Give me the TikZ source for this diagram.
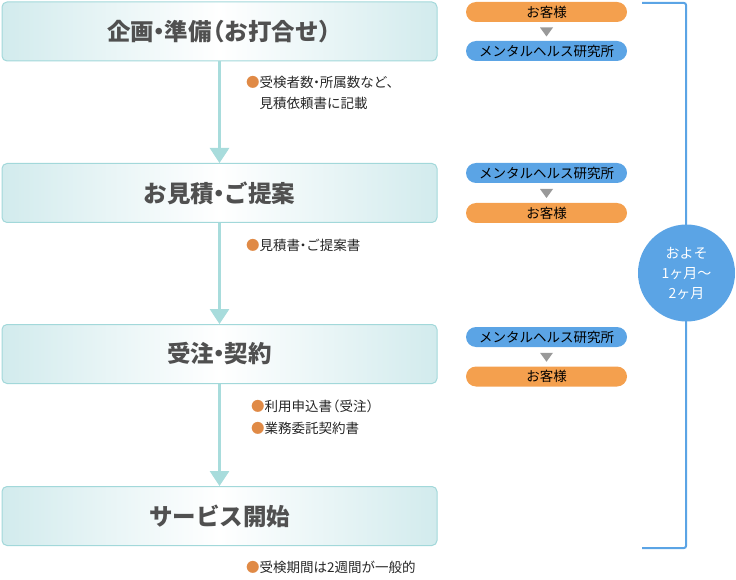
\documentclass[tikz,border=0pt]{standalone}
\usepackage{fontspec}
\newfontfamily\jp{Noto Sans CJK JP}
\usetikzlibrary{arrows.meta,positioning,calc}
\definecolor{stepline}{HTML}{A8DCDC}
\definecolor{stepedge}{HTML}{D2EBED}
\definecolor{stepborder}{HTML}{A2D8DA}
\definecolor{steptext}{HTML}{505050}
\definecolor{custorange}{HTML}{F4A04E}
\definecolor{labblue}{HTML}{5BA4E5}
\definecolor{dotorange}{HTML}{E08A46}
\definecolor{tipgray}{HTML}{999999}
\newcommand{\dotmark}{\textcolor{dotorange}{●}}
% narrow punctuation
\newcommand{\nd}{\makebox[0.45em]{・}}
\newcommand{\lp}{\makebox[0.55em][r]{（}}
\newcommand{\rp}{\makebox[0.55em][l]{）}}

\begin{document}
\begin{tikzpicture}[x=1pt, y=-1pt, font=\jp,
  stepbox/.style={draw=stepborder, line width=1pt, rounded corners=5pt, minimum width=435pt, minimum height=59pt, left color=stepedge, right color=stepedge, middle color=white, text=steptext, font=\jp\bfseries\fontsize{23.5}{26}\selectfont},
  flow/.style={draw=stepline, line width=3pt, -{Triangle[width=19pt,length=15pt]}},
  notetext/.style={anchor=west, inner sep=0pt, align=left, text=black!85, font=\jp\fontsize{13.5}{21.5}\selectfont},
  pill/.style={rounded corners=10pt, minimum width=161pt, minimum height=20pt, inner sep=0pt, text=black, font=\jp\fontsize{13.5}{15}\selectfont},
  cust/.style={pill, fill=custorange},
  lab/.style={pill, fill=labblue},
  tip/.style={fill=tipgray},
  span/.style={draw=labblue, line width=2pt}]
\useasboundingbox (0,0) rectangle (736,580);

% steps
\node[stepbox] (s_1) at (219.5,31.5) {企画\nd 準備\lp お打合せ\rp};
\node[stepbox] (s_2) at (219.5,193) {お見積\nd ご提案};
\node[stepbox] (s_3) at (219.5,354) {受注\nd 契約};
\node[stepbox] (s_4) at (219.5,516) {サービス開始};

\draw[flow] (s_1) -- (s_2);
\draw[flow] (s_2) -- (s_3);
\draw[flow] (s_3) -- (s_4);

% notes
\node[notetext] (note_1) at (246,93) {\dotmark 受検者数\nd 所属数など、\\\phantom{\dotmark}見積依頼書に記載};
\node[notetext] (note_2) at (246,245) {\dotmark 見積書\nd ご提案書};
\node[notetext] (note_3) at (251,417.5) {\dotmark 利用申込書\lp 受注\rp\\\dotmark 業務委託契約書};
\node[notetext] (note_4) at (246,567) {\dotmark 受検期間は2週間が一般的};

% who sends what
\node[cust] (c_1) at (546.5,12) {お客様};
\node[lab] (l_1) at (546.5,51) {メンタルヘルス研究所};
\node[lab] (l_2) at (546.5,173) {メンタルヘルス研究所};
\node[cust] (c_2) at (546.5,213) {お客様};
\node[lab] (l_3) at (546.5,337) {メンタルヘルス研究所};
\node[cust] (c_3) at (546.5,376.5) {お客様};

\fill[tip] ($(c_1.south)!0.5!(l_1.north)$) ++(-6.5,-4) -- ++(13,0) -- ++(-6.5,9) -- cycle;
\fill[tip] ($(l_2.south)!0.5!(c_2.north)$) ++(-6.5,-4) -- ++(13,0) -- ++(-6.5,9) -- cycle;
\fill[tip] ($(l_3.south)!0.5!(c_3.north)$) ++(-6.5,-4) -- ++(13,0) -- ++(-6.5,9) -- cycle;

% overall span
\coordinate (top_l) at (642,3);
\coordinate (top_r) at (686,3);
\coordinate (bot_r) at (686,548);
\coordinate (bot_l) at (642,548);
\draw[span, rounded corners=2pt] (top_l) -- (top_r) -- (bot_r) -- (bot_l);
\node[circle, fill=labblue, minimum size=97pt, inner sep=0pt, align=center, text=white, font=\jp\fontsize{14}{20}\selectfont] (period) at (686.5,273) {およそ\\1ヶ月〜\\2ヶ月};
\end{tikzpicture}
\end{document}
